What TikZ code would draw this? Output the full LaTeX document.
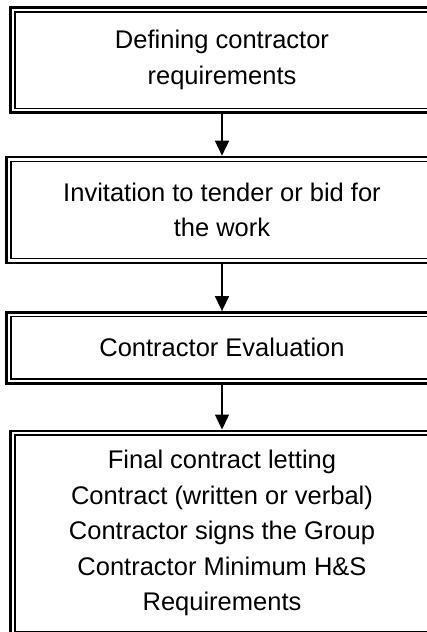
\documentclass[tikz,border=0pt]{standalone}
\usepackage{fontspec}
\setmainfont{Liberation Sans}
\usetikzlibrary{positioning,arrows.meta}

\begin{document}
\begin{tikzpicture}[> = {Triangle[width=14pt,length=15pt]},
  stage/.style = {align=center, font=\fontsize{25.5}{35.5}\selectfont},
  thinrim/.style = {line width=1.4pt},
  thickrim/.style = {line width=2.5pt},
  flow/.style = {->, line width=1.5pt, shorten <=5.5pt, shorten >=5.5pt}]
\useasboundingbox (0,0) rectangle (426pt,-632pt);

\node (define) [stage, minimum width=414pt, minimum height=96pt] at (222pt,-60pt) {Defining contractor\\requirements};
\node (tender) [stage, minimum width=422pt, minimum height=97pt, below=53pt of define] {Invitation to tender or bid for\\the work};
\node (evaluate) [stage, minimum width=422pt, minimum height=62pt, below=58pt of tender] {Contractor Evaluation};
\node (letting) [stage, minimum width=414pt, minimum height=196pt, below=56pt of evaluate] {Final contract letting\\Contract (written or verbal)\\Contractor signs the Group\\Contractor Minimum H\&S\\Requirements};

% frames run on past the right edge
\foreach \n in {define,tender,evaluate,letting} {
  \draw[thinrim] (\n.south west) rectangle ([xshift=40pt]\n.north east);
  \draw[thickrim] ([shift={(-4.25pt,-4.25pt)}]\n.south west) rectangle ([shift={(44pt,4.25pt)}]\n.north east);
}

\draw[flow] (define) to (tender);
\draw[flow] (tender) to (evaluate);
\draw[flow] (evaluate) to (letting);
\end{tikzpicture}
\end{document}
